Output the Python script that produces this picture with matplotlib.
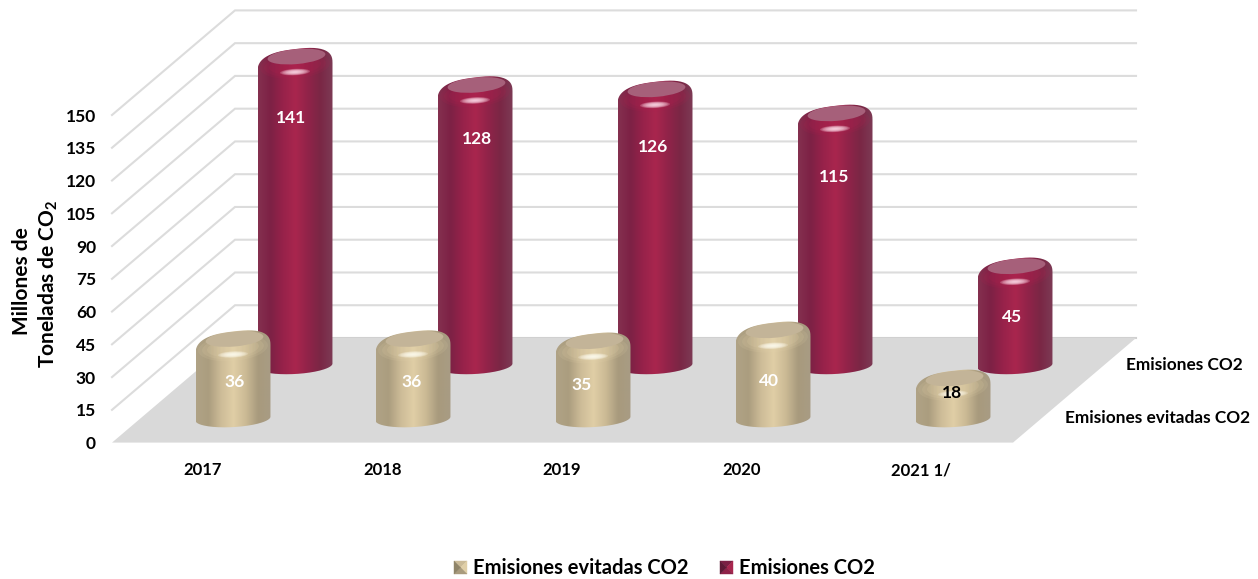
import matplotlib.pyplot as plt
from matplotlib.colors import LinearSegmentedColormap
from matplotlib.patches import Ellipse, PathPatch, Polygon
from matplotlib.path import Path
import numpy as np

plt.rcParams['font.family'] = ['Lato', 'DejaVu Sans']
plt.rcParams['font.weight'] = 'bold'
plt.rcParams['mathtext.fontset'] = 'custom'
plt.rcParams['mathtext.bf'] = 'Lato:bold'

years = ['2017', '2018', '2019', '2020', '2021 1/']
evitadas = [36, 36, 35, 40, 18]
emisiones = [141, 128, 126, 115, 45]
ticks = [0, 15, 30, 45, 60, 75, 90, 105, 120, 135, 150]

name_evitadas = 'Emisiones evitadas CO2'
name_emisiones = 'Emisiones CO2'

# colores sacados de la imagen
tan_stops = ['#b0a386', '#ab9d7f', '#cdbc98', '#e0cea6', '#cbba95', '#a89a7d', '#a89c84']
red_stops = ['#84304f', '#7d2145', '#97224a', '#a9264e', '#912349', '#7a2745', '#7d3a55']
tan_top = '#c3b498'
red_top = '#a6607a'

# geometria en pixeles de la figura
px = 32.76 / 15
floor_front = 442.6
depth_x, depth_y = 123, 104.6
left, right = 112, 1013
back_base, front_base = 356.5, 409.6
back_x0, front_x0, step = 295, 233, 180
half_w = 37.5


def draw_cylinder(ax, cx, val, base, stops, top_col, z, glow, band):
    ytop = base - val * px
    bottom = base + 9
    cy = ytop + 19
    t = np.linspace(np.pi, 0, 80)
    # hombro redondeado, mas cuadrado que una elipse
    c = np.sign(np.cos(t)) * np.abs(np.cos(t)) ** 0.75
    s = np.abs(np.sin(t)) ** 0.75
    up_x = cx + half_w * c
    up_y = cy - 18.5 * s - 4.5 * c
    t2 = np.linspace(0, -np.pi, 60)
    lo_x = cx + half_w * np.cos(t2)
    lo_y = bottom - 8.5 * np.sin(t2) - 2 * np.cos(t2)
    pts = np.vstack([np.column_stack([up_x, up_y]), np.column_stack([lo_x, lo_y]),
                     [[up_x[0], up_y[0]]]])
    shape = PathPatch(Path(pts), fc='none', ec='none', transform=ax.transData)
    ax.add_patch(shape)

    cmap = LinearSegmentedColormap.from_list('c', stops)
    grad = np.linspace(0, 1, 200).reshape(1, -1)
    im = ax.imshow(grad, cmap=cmap, extent=[cx - half_w, cx + half_w, bottom + 12, ytop - 2],
                   aspect='auto', zorder=z, interpolation='bilinear')
    im.set_clip_path(shape)

    # banda clara del hombro
    for w, h, a in [(70, 26, 0.12), (62, 22, 0.14), (52, 18, 0.16)]:
        e = Ellipse((cx, cy - 2), w, h, angle=-5, fc=band, ec='none', alpha=a, zorder=z + 0.05)
        ax.add_patch(e)
        e.set_clip_path(shape)

    # tapa superior, y brillo debajo
    tapa = Ellipse((cx + 1.5, ytop + 8), 58, 15, angle=-5, fc=top_col, ec='none', zorder=z + 0.1)
    ax.add_patch(tapa)
    tapa.set_clip_path(shape)
    for k in np.linspace(1, 0.15, 10):
        ax.add_patch(Ellipse((cx, cy + 4.5), 30 * k, 6.5 * k, angle=-3, fc=glow, ec='none',
                             alpha=0.2, zorder=z + 0.2))


fig = plt.figure(figsize=(12.58, 5.79), dpi=100)
ax = fig.add_axes([0, 0, 1, 1])

# paredes
for v in ticks[1:]:
    y = floor_front - v * px
    ax.plot([left, left + depth_x, right + depth_x], [y, y - depth_y, y - depth_y],
            color='#dcdcdc', lw=1.5, zorder=1, solid_joinstyle='miter')
ax.plot([left + depth_x, right + depth_x], [floor_front - depth_y] * 2, color='#d0d0d0', lw=1.5, zorder=1)

# piso
ax.add_patch(Polygon([[left, floor_front], [right, floor_front],
                      [right + depth_x, floor_front - depth_y], [left + depth_x, floor_front - depth_y]],
                     fc='#d9d9d9', ec='none', zorder=1.5))

# ajuste de las etiquetas respecto a cada cilindro
back_dx = [-4, 2, -2, -1, -3]
back_dy = [69, 62, 66, 72, 59]
front_dx = [2, -1, -11, -4, -1]
front_dy = [51, 51, 52, 59, 23]
for i in range(len(years)):
    cx = back_x0 + i * step
    draw_cylinder(ax, cx, emisiones[i], back_base, red_stops, red_top, 2 + i * 0.01, '#ffe0ec', '#b3204f')
    ax.text(cx + back_dx[i], back_base - emisiones[i] * px + back_dy[i], str(emisiones[i]),
            color='white', fontsize=12.5, ha='center', va='center', zorder=3)
for i in range(len(years)):
    cx = front_x0 + i * step
    draw_cylinder(ax, cx, evitadas[i], front_base, tan_stops, tan_top, 4 + i * 0.01, '#fffdf0', '#e6d5ad')
    ax.text(cx + front_dx[i], front_base - evitadas[i] * px + front_dy[i], str(evitadas[i]),
            color='white' if i < 4 else 'black', fontsize=12.5, ha='center', va='center', zorder=5)

# eje de valores
for v in ticks:
    ax.text(96, floor_front - v * px + 1.5, str(v), fontsize=12.5, ha='right', va='center', color='black')
ax.text(22, 281, 'Millones de', rotation=90, fontsize=15, ha='center', va='center')
ax.text(48, 284, 'Toneladas de CO$_{\\mathbf{2}}$', rotation=90, fontsize=15, ha='center', va='center')

# categorias
for i, yr in enumerate(years):
    ax.text(203 + i * 179.5, 470, yr, fontsize=12, ha='center', va='center')

# eje de series
ax.text(1126, 365, name_emisiones, fontsize=12.4, ha='left', va='center')
ax.text(1065, 418, name_evitadas, fontsize=12.4, ha='left', va='center')


def legend_mark(x0, y0, s, cols):
    c = (x0 + s / 2, y0 + s / 2)
    corners = [(x0, y0), (x0 + s, y0), (x0 + s, y0 + s), (x0, y0 + s)]
    for j in range(4):
        ax.add_patch(Polygon([corners[j], corners[(j + 1) % 4], c], fc=cols[j], ec=cols[j], lw=0.3))


legend_mark(454, 561, 13, ['#cbbb98', '#e0cfa8', '#a99b7d', '#8f8468'])
ax.text(473, 568.5, name_evitadas, fontsize=14.5, ha='left', va='center')
legend_mark(720, 561, 13, ['#7b2044', '#a8264e', '#8f2248', '#5e1a36'])
ax.text(739, 568.5, name_emisiones, fontsize=14.5, ha='left', va='center')

ax.set_xlim(0, 1258)
ax.set_ylim(579, 0)
ax.axis('off')
fig.savefig('out.png', dpi=100)
